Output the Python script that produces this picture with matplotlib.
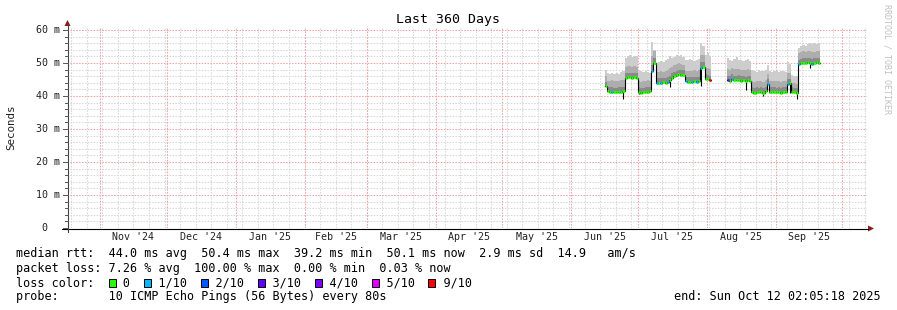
import numpy as np
import pandas as pd
import matplotlib
matplotlib.use('Agg')
import matplotlib.pyplot as plt
import matplotlib.dates as mdates
from matplotlib.patches import Rectangle, Polygon
from matplotlib.lines import Line2D

nan = np.nan

# graph window
start = pd.Timestamp('2024-10-17 02:05:18')
end = pd.Timestamp('2025-10-12 02:05:18')
first_day = '2025-06-16'

# daily median rtt (ms)
med = [43.0, 41.4, 41.2, 41.3, 41.2, 41.1, 41.3, 41.2, 41.4,
       45.4, 45.6, 45.6, 45.5, 45.6, 45.5,
       41.2, 41.0, 41.2, 41.3, 41.2, 41.4,
       47.5, 50.0,
       44.0, 43.9, 44.0, 44.1, 44.0, 44.3, 44.8, 45.5, 46.0,
       46.3, 46.6, 46.5, 46.4,
       44.4, 44.2, 44.3, 44.3, 44.5, 44.2, 44.4,
       48.5, 48.9,
       45.2, 45.0, 44.8,
       nan, nan, nan, nan, nan, nan, nan,
       44.8, 44.6, 45.2, 44.7, 44.8, 44.9, 44.6, 44.7, 44.5, 44.8, 44.6,
       41.2, 41.0, 41.3, 41.1, 41.2, 41.0, 41.4, 43.5, 41.3, 41.2, 41.3, 41.1, 41.2, 41.0, 41.3, 41.2,
       43.6, 43.8,
       41.3, 41.2, 41.0,
       49.6, 49.9, 50.1, 50.0, 50.2, 50.1, 49.8, 50.0, 50.2, 50.1]

# smoke band edges (ms)
dark = [44.2, 42.8, 42.6, 42.7, 42.5, 42.5, 42.7, 42.6, 42.8,
        46.9, 47.1, 47.0, 46.9, 47.1, 47.0,
        42.6, 42.4, 42.5, 42.7, 42.6, 42.8,
        49.5, 51.5,
        45.4, 45.3, 45.4, 45.5, 45.4, 45.7, 46.2, 46.9, 47.4,
        47.7, 48.0, 47.9, 47.8,
        45.8, 45.6, 45.7, 45.7, 45.9, 45.6, 45.8,
        50.2, 50.4,
        46.6, 46.4, 46.2,
        nan, nan, nan, nan, nan, nan, nan,
        46.2, 46.0, 46.6, 46.1, 46.2, 46.3, 46.0, 46.1, 45.9, 46.2, 46.0,
        42.6, 42.4, 42.7, 42.5, 42.6, 42.4, 42.8, 45.0, 42.7, 42.6, 42.7, 42.5, 42.6, 42.4, 42.7, 42.6,
        45.0, 45.2,
        42.6, 42.5, 42.3,
        51.0, 51.3, 51.5, 51.4, 51.6, 51.5, 51.2, 51.4, 51.6, 51.5]

mid = [46.0, 44.6, 44.5, 44.7, 44.4, 44.6, 44.5, 44.8, 44.7,
       48.8, 49.0, 49.2, 48.9, 49.1, 48.8,
       44.5, 44.3, 44.6, 44.4, 44.7, 44.6,
       52.0, 53.5,
       47.3, 47.2, 47.5, 47.4, 47.6, 47.9, 48.4, 48.9, 49.3,
       49.6, 49.9, 49.8, 49.5,
       47.6, 47.5, 47.7, 47.6, 47.8, 47.5, 47.8,
       52.5, 52.3,
       48.6, 48.5, 48.2,
       nan, nan, nan, nan, nan, nan, nan,
       48.2, 47.9, 48.5, 48.1, 48.3, 48.2, 47.9, 48.0, 47.8, 48.2, 47.9,
       44.5, 44.3, 44.6, 44.4, 44.5, 44.3, 44.7, 46.8, 44.6, 44.5, 44.6, 44.4, 44.5, 44.3, 44.6, 44.5,
       46.9, 47.1,
       44.0, 43.8, 43.6,
       53.0, 53.3, 53.5, 53.4, 53.6, 53.5, 53.2, 53.4, 53.6, 53.5]

top = [47.8, 47.0, 46.6, 46.9, 46.7, 47.1, 46.8, 47.3, 47.5,
       51.5, 52.0, 52.3, 51.8, 52.2, 52.0,
       47.8, 47.5, 47.2, 47.6, 47.4, 47.0,
       56.5, 54.0,
       50.0, 50.2, 50.5, 50.3, 50.8, 51.2, 52.0, 51.5, 51.8,
       52.5, 52.0, 52.3, 51.8,
       51.0, 50.8, 51.2, 51.0, 50.6, 50.9, 51.3,
       56.0, 55.0,
       52.5, 53.0, 52.0,
       nan, nan, nan, nan, nan, nan, nan,
       51.5, 51.0, 50.5, 51.2, 51.8, 50.8, 51.0, 50.5, 50.8, 51.2, 50.6,
       47.8, 47.5, 47.2, 48.0, 47.6, 47.5, 47.8, 49.5, 47.5, 47.2, 47.6, 47.9, 47.4, 47.7, 47.5, 47.3,
       50.2, 49.8,
       46.5, 46.2, 46.0,
       54.5, 55.0, 55.5, 55.2, 55.8, 56.0, 55.6, 56.2, 55.8, 56.0]

# lost pings out of 10 per day
loss = [0, 0, 0, 1, 0, 0, 0, 0, 0,
        0, 0, 0, 0, 0, 0,
        0, 0, 0, 0, 0, 0,
        1, 0,
        1, 0, 1, 0, 0, 1, 0, 0, 0,
        0, 0, 0, 0,
        1, 0, 0, 1, 0, 1, 0,
        1, 0,
        0, 0, 9,
        0, 0, 0, 0, 0, 0, 0,
        4, 0, 1, 0, 0, 0, 0, 0, 0, 0, 0,
        0, 0, 0, 0, 0, 0, 0, 1, 0, 0, 0, 0, 0, 0, 0, 0,
        1, 0,
        0, 0, 0,
        1, 0, 0, 0, 0, 0, 1, 0, 0, 0]

# short dips below the median (day index, ms)
dip_days = [8, 15, 29, 43, 63, 71, 83, 86, 92]
dip_lows = [39.0, 40.5, 42.8, 43.0, 41.9, 40.0, 40.8, 39.2, 48.5]

loss_colors = {0: '#26ff00', 1: '#00b8ff', 2: '#0059ff', 3: '#5e00ff',
               4: '#7e00ff', 5: '#dd00ff', 9: '#ff0000'}
loss_labels = ['0', '1/10', '2/10', '3/10', '4/10', '5/10', '9/10']
loss_keys = [0, 1, 2, 3, 4, 5, 9]

y_ticks = [0, 10, 20, 30, 40, 50, 60]
y_labels = ['0  ', '10 m', '20 m', '30 m', '40 m', '50 m', '60 m']

legend_lines = [
    'median rtt:  44.0 ms avg  50.4 ms max  39.2 ms min  50.1 ms now  2.9 ms sd  14.9   am/s',
    'packet loss: 7.26 % avg  100.00 % max  0.00 % min  0.03 % now',
]
probe_text = 'probe:       10 ICMP Echo Pings (56 Bytes) every 80s'
end_text = 'end: Sun Oct 12 02:05:18 2025'

W, H = 897, 310
MONO = 'DejaVu Sans Mono'


def fx(x):
    return x / W


def fy(y):
    return 1 - y / H


fig = plt.figure(figsize=(W / 100, H / 100), dpi=100)
fig.patch.set_facecolor('white')
ax = fig.add_axes([fx(67), fy(228), 800 / W, 201 / H])
ax.set_facecolor('white')
t0 = mdates.date2num(start)
t1 = mdates.date2num(end)
ax.set_xlim(t0, t1)
ax.set_ylim(0, 60.9)
for s in ax.spines.values():
    s.set_visible(False)
ax.set_xticks([])
ax.set_yticks([])

# grid
dots = (0, (1.4, 1.4))
for v in np.arange(2, 61, 2):
    if v % 10:
        ax.axhline(v, color='#d6d6d6', lw=0.75, ls=dots, zorder=0.5)
for v in y_ticks[1:]:
    ax.axhline(v, color='#f2a0a0', lw=0.75, ls=dots, zorder=0.6)
for d in pd.date_range('2024-10-19', end, freq='7D'):
    ax.axvline(mdates.date2num(d), color='#d6d6d6', lw=0.75, ls=dots, zorder=0.5)
months = pd.date_range('2024-11-01', end, freq='MS')
for d in months:
    ax.axvline(mdates.date2num(d), color='#f2a0a0', lw=0.75, ls=dots, zorder=0.6)

# month labels centred in each month
for m in pd.date_range('2024-11-01', '2025-09-01', freq='MS'):
    nxt = m + pd.offsets.MonthBegin(1)
    c = mdates.date2num(m) + (mdates.date2num(nxt) - mdates.date2num(m)) / 2
    ax.text(c, -(237.5 - 228) / 201, m.strftime("%b '%y"),
            transform=ax.get_xaxis_transform(),
            ha='center', va='center', family=MONO, fontsize=7.2, color='#222222',
            clip_on=False)

# data
x = mdates.date2num(pd.date_range(first_day, periods=len(med), freq='D'))
med_a = np.array(med)
ok = np.isfinite(med_a)
runs = []
i = 0
while i < len(med_a):
    if ok[i]:
        j = i
        while j + 1 < len(med_a) and ok[j + 1]:
            j += 1
        runs.append((i, j))
        i = j + 1
    else:
        i += 1

bands = [(med, dark, '#8a8a8a'), (dark, mid, '#adadad'), (mid, top, '#cdcdcd')]
for a, b in runs:
    xs = np.append(x[a:b + 1], x[b] + 1)
    for lo, hi, col in bands:
        lo_r = np.append(lo[a:b + 1], lo[b])
        hi_r = np.append(hi[a:b + 1], hi[b])
        ax.fill_between(xs, lo_r, hi_r, step='post', color=col, lw=0, zorder=2)
    ys = np.append(med_a[a:b + 1], med_a[b])
    ax.step(xs, ys, where='post', color='black', lw=0.8, zorder=3)

for d, lo in zip(dip_days, dip_lows):
    ax.vlines(x[d] + 0.5, lo, med_a[d], color='black', lw=0.8, zorder=3)

for k in range(len(med_a)):
    if ok[k]:
        ax.hlines(med_a[k], x[k], x[k] + 1, colors=loss_colors[loss[k]], lw=1.9,
                  zorder=4)

# axes lines and arrows
fig.add_artist(Line2D([fx(62), fx(868)], [fy(228.5), fy(228.5)], color='black', lw=0.8))
fig.add_artist(Line2D([fx(67.5), fx(67.5)], [fy(232), fy(25)], color='#444444', lw=0.8))
fig.add_artist(Polygon([[fx(67.5), fy(20)], [fx(64.5), fy(26)], [fx(70.5), fy(26)]],
                       closed=True, color='#8b1a1a', lw=0))
fig.add_artist(Polygon([[fx(874), fy(228.5)], [fx(868), fy(225.5)], [fx(868), fy(231.5)]],
                       closed=True, color='#8b1a1a', lw=0))
for v in np.arange(0, 61, 2):
    yy = 228 - v * 3.3
    x_left = 63 if v % 10 == 0 else 65
    fig.add_artist(Line2D([fx(x_left), fx(67.5)], [fy(yy), fy(yy)], color='#555555', lw=0.7))

# y labels
for v, lab in zip(y_ticks, y_labels):
    fig.text(fx(60), fy(228 - v * 3.3), lab, ha='right', va='center',
             family=MONO, fontsize=7.2, color='#222222')

fig.text(fx(11), fy(127), 'Seconds', rotation=90, ha='center', va='center',
         family=MONO, fontsize=7.8, color='#222222')
fig.text(fx(448), fy(19), 'Last 360 Days', ha='center', va='center',
         family=MONO, fontsize=9.5, color='black')
fig.text(fx(887), fy(4), 'RRDTOOL / TOBI OETIKER', rotation=270, ha='center', va='top',
         family=MONO, fontsize=6, color='#c0c0c0')

# legend text
fs = 8.5
cw = 7.1
fig.text(fx(16), fy(254), legend_lines[0], ha='left', va='center', family=MONO,
         fontsize=fs, color='black')
fig.text(fx(16), fy(268.3), legend_lines[1], ha='left', va='center', family=MONO,
         fontsize=fs, color='black')

line3 = 'loss color:  '
box_pos = []
for lab in loss_labels:
    box_pos.append(len(line3))
    line3 += '  ' + lab + '  '
fig.text(fx(16), fy(282.7), line3.rstrip(), ha='left', va='center', family=MONO,
         fontsize=fs, color='black')
for c, key in zip(box_pos, loss_keys):
    bx = 16 + c * cw + 0.5
    fig.add_artist(Rectangle((fx(bx), fy(286.5)), 7 / W, 7.5 / H,
                             facecolor=loss_colors[key], edgecolor='black', lw=0.7))

fig.text(fx(16), fy(296.7), probe_text, ha='left', va='center', family=MONO,
         fontsize=fs, color='black')
fig.text(fx(881), fy(296.7), end_text, ha='right', va='center', family=MONO,
         fontsize=fs, color='black')

fig.savefig('out.png', dpi=100, facecolor='white')
